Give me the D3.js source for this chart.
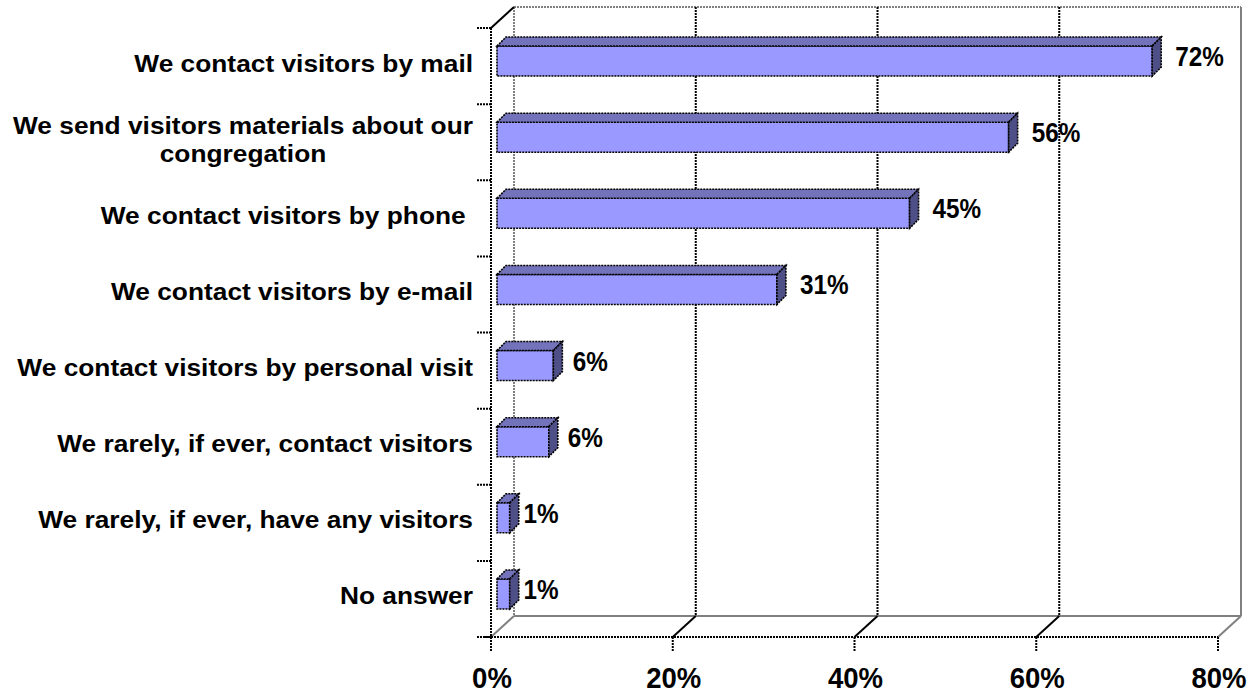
<!DOCTYPE html>
<html>
<head>
<meta charset="utf-8">
<script src="https://cdn.jsdelivr.net/npm/d3@7"></script>
<style>
  html, body { margin: 0; padding: 0; background: #fff; }
  svg { display: block; }
  text { font-family: "Liberation Sans", Arial, sans-serif; font-weight: bold; fill: #000; white-space: pre; }
</style>
</head>
<body>
<svg id="chart" width="1260" height="694"></svg>
<script>
// ---- data ----
const categories = [
  "We contact visitors by mail",
  "We send visitors materials about our\ncongregation",
  "We contact visitors by phone ",
  "We contact visitors by e-mail",
  "We contact visitors by personal visit",
  "We rarely, if ever, contact visitors",
  "We rarely, if ever, have any visitors",
  "No answer"
];
const values = [72.1, 56.3, 45.4, 30.8, 6.2, 5.7, 1.4, 1.4];
const xTicks = [0, 20, 40, 60, 80];

// ---- layout ----
const svg = d3.select("#chart");
const front = { left: 491, right: 1218, top: 28, bottom: 637 };
const depth = { dx: 23, dy: 21 };          // wall depth (projected)
const barOff = { dx: 6, dy: 5 };           // bar front plane offset
const barDepth = { dx: 9, dy: 9 };         // bar depth

const x = d3.scaleLinear().domain([0, 80]).range([front.left, front.right]);
const y = d3.scaleBand().domain(categories).range([front.top, front.bottom]).padding(0);
const step = y.step();
const barH = step * 0.394;

const fmt = v => Math.round(v) + "%";

const gridDark = "#000";
const gridGrey = "#808080";
const dash = "2,1";

function addText(parent, tx, ty, str, size, sx, anchor) {
  return parent.append("text")
    .attr("transform", `translate(${tx},${ty}) scale(${sx},1)`)
    .attr("x", 0).attr("y", 0)
    .attr("font-size", size)
    .attr("text-anchor", anchor || "start")
    .text(str);
}

// back wall frame
const bx0 = front.left + depth.dx, by0 = front.top - depth.dy, by1 = front.bottom - depth.dy;
const bx1 = front.right + depth.dx;

svg.append("line").attr("x1", bx0).attr("y1", by0).attr("x2", bx1).attr("y2", by0)
  .attr("stroke", gridGrey).attr("stroke-width", 2).attr("stroke-dasharray", dash);
svg.append("line").attr("x1", bx0).attr("y1", by0).attr("x2", bx0).attr("y2", by1)
  .attr("stroke", gridGrey).attr("stroke-width", 2).attr("stroke-dasharray", dash);
svg.append("line").attr("x1", bx1).attr("y1", by0).attr("x2", bx1).attr("y2", by1)
  .attr("stroke", gridGrey).attr("stroke-width", 2);
svg.append("line").attr("x1", bx0).attr("y1", by1).attr("x2", bx1).attr("y2", by1)
  .attr("stroke", gridGrey).attr("stroke-width", 2);
svg.append("line").attr("x1", front.right).attr("y1", front.bottom).attr("x2", bx1).attr("y2", by1)
  .attr("stroke", gridGrey).attr("stroke-width", 2);
svg.append("line").attr("x1", front.left).attr("y1", front.bottom).attr("x2", bx0).attr("y2", by1)
  .attr("stroke", gridGrey).attr("stroke-width", 2);
svg.append("line").attr("x1", front.left).attr("y1", front.top).attr("x2", bx0).attr("y2", by0)
  .attr("stroke", "#000").attr("stroke-width", 2);

// inner gridlines (20,40,60)
const inner = xTicks.filter(t => t > 0 && t < 80);
const g = svg.append("g");
inner.forEach(t => {
  const xf = x(t), xk = xf + depth.dx;
  g.append("line").attr("x1", xk).attr("y1", by0).attr("x2", xk).attr("y2", by1)
    .attr("stroke", gridDark).attr("stroke-width", 2).attr("stroke-dasharray", dash);
  g.append("line").attr("x1", xf).attr("y1", front.bottom).attr("x2", xk).attr("y2", by1)
    .attr("stroke", gridDark).attr("stroke-width", 2);
});

// bars
const xb = v => x(v) + barOff.dx;
const bars = svg.append("g");
categories.forEach((c, i) => {
  const v = values[i];
  const yTop = y(c) + step / 2 - barH / 2 - barOff.dy;
  const x0 = xb(0), x1 = xb(v);
  const dx = barDepth.dx, dy = barDepth.dy;
  const stroke = "#000";
  bars.append("rect").attr("x", x0).attr("y", yTop).attr("width", x1 - x0).attr("height", barH)
    .attr("fill", "#9999FF").attr("stroke", stroke).attr("stroke-width", 1.6).attr("stroke-dasharray", dash);
  bars.append("polygon")
    .attr("points", [[x0, yTop], [x0 + dx, yTop - dy], [x1 + dx, yTop - dy], [x1, yTop]].map(p => p.join(",")).join(" "))
    .attr("fill", "#7373BB").attr("stroke", stroke).attr("stroke-width", 1.6).attr("stroke-dasharray", dash);
  bars.append("polygon")
    .attr("points", [[x1, yTop], [x1 + dx, yTop - dy], [x1 + dx, yTop + barH - dy], [x1, yTop + barH]].map(p => p.join(",")).join(" "))
    .attr("fill", "#4F4F88").attr("stroke", stroke).attr("stroke-width", 1.6).attr("stroke-dasharray", dash);
  const gap = Math.min(14, 3 + v * 1.2);
  addText(svg, x1 + dx + gap, yTop + barH / 2 - dy / 2, fmt(v), 27, 0.9, "start")
    .attr("dominant-baseline", "central");
});

// left axis (front)
svg.append("line").attr("x1", front.left).attr("y1", front.top).attr("x2", front.left).attr("y2", front.bottom + 15)
  .attr("stroke", "#000").attr("stroke-width", 2).attr("stroke-dasharray", dash);
d3.range(categories.length + 1).forEach(i => {
  const yy = front.top + i * step;
  svg.append("line").attr("x1", front.left - 14).attr("y1", yy).attr("x2", front.left).attr("y2", yy)
    .attr("stroke", "#000").attr("stroke-width", 2).attr("stroke-dasharray", dash);
});
// bottom axis (front)
svg.append("line").attr("x1", front.left - 6).attr("y1", front.bottom).attr("x2", front.right).attr("y2", front.bottom)
  .attr("stroke", "#000").attr("stroke-width", 2).attr("stroke-dasharray", dash);
xTicks.forEach(t => {
  svg.append("line").attr("x1", x(t)).attr("y1", front.bottom).attr("x2", x(t)).attr("y2", front.bottom + 15)
    .attr("stroke", "#000").attr("stroke-width", 2).attr("stroke-dasharray", dash);
  addText(svg, x(t) + 1, 688, t + "%", 29, 0.95, "middle");
});

// category labels
const labelRight = 473;
const catSize = 23.5, catSx = 1.12;
categories.forEach((c, i) => {
  const lines = c.split("\n");
  const cy = y(c) + step / 2 - 3;
  const lh = 28;
  const grp = svg.append("g");
  const texts = lines.map((ln, j) => addText(grp, 0, cy + (j - (lines.length - 1) / 2) * lh, ln, catSize, catSx, "middle")
    .attr("dominant-baseline", "central"));
  const widths = texts.map(t => t.node().getComputedTextLength() * catSx);
  const maxW = d3.max(widths);
  const center = labelRight - maxW / 2;
  texts.forEach((t, j) => t.attr("transform",
    `translate(${center},${cy + (j - (lines.length - 1) / 2) * lh}) scale(${catSx},1)`));
});
</script>
</body>
</html>
